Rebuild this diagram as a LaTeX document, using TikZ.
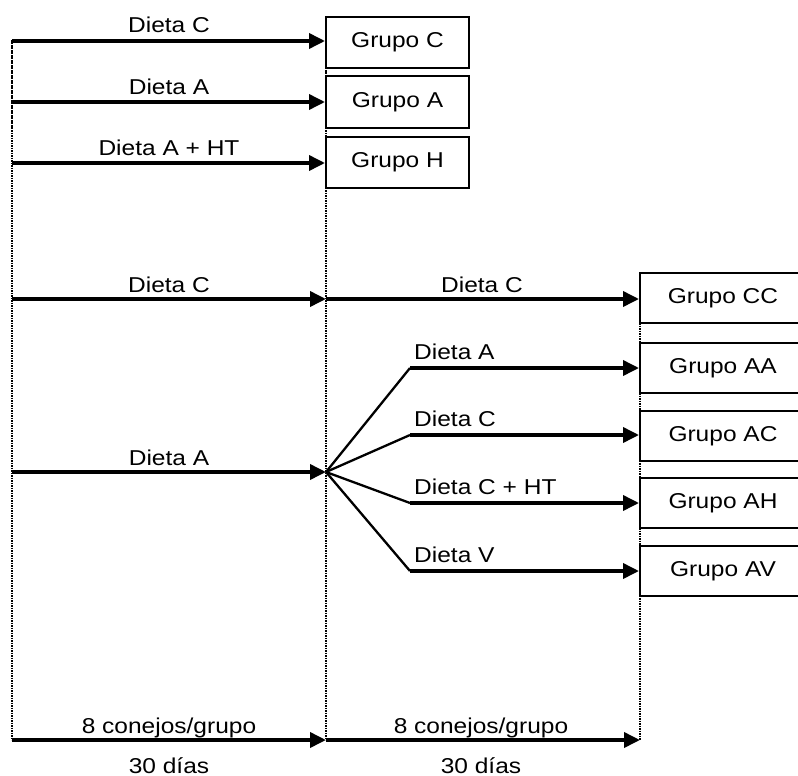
\documentclass[tikz,border=0pt]{standalone}
\usepackage{fontspec}
\setmainfont{Liberation Sans}[FakeStretch=1.14]
\usetikzlibrary{arrows.meta}
\begin{document}
\begin{tikzpicture}[x=1pt,y=-1pt,
  font=\fontsize{21.5}{25}\selectfont,
  arr/.style={line width=3.6pt,-{Triangle[length=16pt,width=15pt]}},
  br/.style={line width=2.3pt},
  dotline/.style={line width=2.4pt,dash pattern=on 1.6pt off 0.9pt},
  gbox/.style={draw,line width=2pt,minimum width=143pt,minimum height=51pt,inner sep=0pt},
  rbox/.style={draw,line width=2pt,minimum width=166pt,minimum height=50pt,inner sep=0pt},
  lab/.style={anchor=base,inner sep=0pt},
  labw/.style={anchor=base west,inner sep=0pt}]
\clip (0,0) rectangle (798,776);
\useasboundingbox (0,0) rectangle (798,776);
% dotted time lines
\coordinate (L0) at (12,40);  \coordinate (L1) at (12,740);
\coordinate (M0) at (326,40); \coordinate (M1) at (326,740);
\coordinate (R0) at (640,273); \coordinate (R1) at (640,740);
\draw[dotline] (L0) -- (L1);
\draw[dotline] (M0) -- (M1);
\draw[dotline] (R0) -- (R1);
% top boxes
\node[gbox] (gC) at (397.5,42.5) {Grupo C};
\node[gbox] (gA) at (397.5,102) {Grupo A};
\node[gbox] (gH) at (397.5,162.5) {Grupo H};
% right boxes
\node[rbox] (gCC) at (723,298) {Grupo CC};
\node[rbox] (gAA) at (723,368) {Grupo AA};
\node[rbox] (gAC) at (723,436) {Grupo AC};
\node[rbox] (gAH) at (723,503) {Grupo AH};
\node[rbox] (gAV) at (723,571) {Grupo AV};
% start coordinates
\coordinate (s1) at (12,41);
\coordinate (s2) at (12,102);
\coordinate (s3) at (12,163);
\coordinate (s4) at (12,299);
\coordinate (s5) at (12,472);
\coordinate (s6) at (12,740);
\coordinate (m4) at (326,299);
\coordinate (fan) at (326,472);
\coordinate (m6) at (326,740);
\coordinate (r6) at (640,740);
\coordinate (b1) at (410,368);
\coordinate (b2) at (410,435);
\coordinate (b3) at (410,503);
\coordinate (b4) at (410,571);
% arrows
\draw[arr] (s1) -- (s1 -| gC.west);
\draw[arr] (s2) -- (s2 -| gA.west);
\draw[arr] (s3) -- (s3 -| gH.west);
\draw[arr] (s4) -- (m4);
\draw[arr] (m4) -- (m4 -| gCC.west);
\draw[arr] (s5) -- (fan);
\draw[br] (fan) -- (b1);
\draw[br] (fan) -- (b2);
\draw[br] (fan) -- (b3);
\draw[br] (fan) -- (b4);
\draw[arr] (b1) -- (b1 -| gAA.west);
\draw[arr] (b2) -- (b2 -| gAC.west);
\draw[arr] (b3) -- (b3 -| gAH.west);
\draw[arr] (b4) -- (b4 -| gAV.west);
\draw[arr] (s6) -- (m6);
\draw[arr] (m6) -- (r6);
% labels
\node[lab] (t1) at (169,33) {Dieta C};
\node[lab] (t2) at (169,94) {Dieta A};
\node[lab] (t3) at (169,155) {Dieta A + HT};
\node[lab] (t4) at (169,292) {Dieta C};
\node[lab] (t5) at (482,292) {Dieta C};
\node[lab] (t6) at (169,465) {Dieta A};
\node[labw] (t7) at (414,359) {Dieta A};
\node[labw] (t8) at (414,426) {Dieta C};
\node[labw] (t9) at (414,494) {Dieta C + HT};
\node[labw] (t10) at (414,562) {Dieta V};
\node[lab] (t11) at (169,733) {8 conejos/grupo};
\node[lab] (t12) at (481,733) {8 conejos/grupo};
\node[lab] (t13) at (169,773) {30 días};
\node[lab] (t14) at (481,773) {30 días};
\end{tikzpicture}
\end{document}
